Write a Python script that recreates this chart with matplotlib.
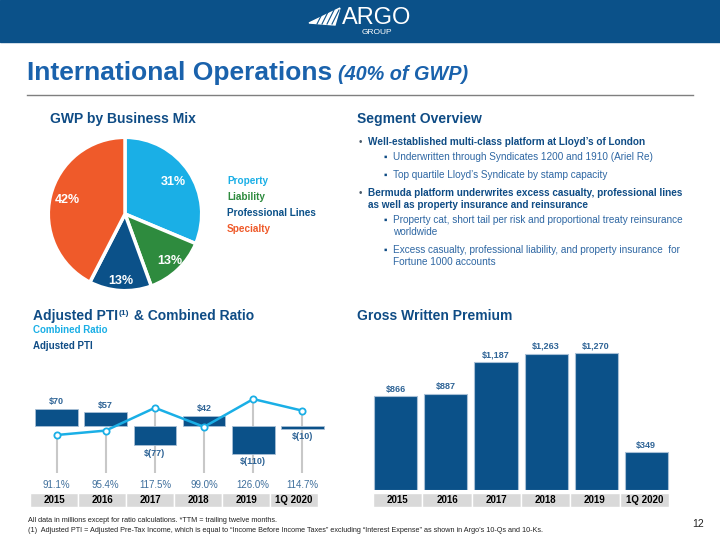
import numpy as np
import matplotlib
matplotlib.use('Agg')
import matplotlib.pyplot as plt
from matplotlib.patches import Rectangle, Polygon
from matplotlib.lines import Line2D

plt.rcParams['font.family'] = ['Liberation Sans', 'DejaVu Sans']

# ---- data ----
mix_labels = ['Property', 'Liability', 'Professional Lines', 'Specialty']
mix_share = [31, 13, 13, 42]

years = ['2015', '2016', '2017', '2018', '2019', '1Q 2020']
pti = [70, 57, -77, 42, -110, -10]
combined_ratio = [91.1, 95.4, 117.5, 99.0, 126.0, 114.7]
gwp = [866, 887, 1187, 1263, 1270, 349]

overview = [
    (0, ['Well-established multi-class platform at Lloyd\u2019s of London']),
    (1, ['Underwritten through Syndicates 1200 and 1910 (Ariel Re)']),
    (1, ['Top quartile Lloyd\u2019s Syndicate by stamp capacity']),
    (0, ['Bermuda platform underwrites excess casualty, professional lines',
         'as well as property insurance and reinsurance']),
    (1, ['Property cat, short tail per risk and proportional treaty reinsurance',
         'worldwide']),
    (1, ['Excess casualty, professional liability, and property insurance  for',
         'Fortune 1000 accounts']),
]

# ---- colours ----
navy = '#0B5189'
head_blue = '#0F4C85'
title_blue = '#1A62AC'
light_blue = '#1AAFE6'
green = '#2E8B3E'
orange = '#EF5A2A'
band_grey = '#D9D9D9'
label_blue = '#2F6496'
mix_colors = [light_blue, green, navy, orange]

W, H = 720, 540


def fx(x):
    return x / W


def fy(y):
    return 1 - y / H


def box(x0, y0, x1, y1):
    return [fx(x0), fy(y1), (x1 - x0) / W, (y1 - y0) / H]


fig = plt.figure(figsize=(7.2, 5.4), dpi=100)
renderer = fig.canvas.get_renderer()


def after(t, gap, y, s, **kw):
    # put a text right after another one
    bb = t.get_window_extent(renderer=renderer)
    return fig.text((bb.x1 + gap) / W, y, s, **kw)


# header band + logo
fig.patches.append(Rectangle((0, fy(42)), 1, 42 / H, transform=fig.transFigure,
                             color=navy, zorder=0))
fig.patches.append(Polygon([(fx(309), fy(23)), (fx(340), fy(8)), (fx(335), fy(25))],
                           closed=True, transform=fig.transFigure, color='white', zorder=1))
for k in range(4):
    fig.add_artist(Line2D([fx(317 + 5 * k), fx(324 + 5 * k)], [fy(24), fy(10)],
                          color=navy, lw=0.8, zorder=2))
fig.text(fx(342), fy(24.5), 'ARGO', color='white', fontsize=17, va='baseline')
fig.text(fx(376.5), fy(33), 'GROUP', color='white', fontsize=6, ha='center', va='center')

# title
t = fig.text(fx(27), fy(80), 'International Operations', fontsize=19, weight='bold',
             color=title_blue, va='baseline')
after(t, 6, fy(80), '(40% of GWP)', fontsize=14.3, weight='bold', style='italic',
      color=title_blue, va='baseline')
fig.add_artist(Line2D([fx(27), fx(693)], [fy(95), fy(95)], color='#7F7F7F', lw=1))

# section headings
fig.text(fx(50), fy(119), 'GWP by Business Mix', fontsize=10, weight='bold',
         color=head_blue, va='center')
fig.text(fx(357), fy(119), 'Segment Overview', fontsize=10, weight='bold',
         color=head_blue, va='center')
t = fig.text(fx(33), fy(320), 'Adjusted PTI', fontsize=10, weight='bold',
             color=head_blue, va='baseline')
t2 = after(t, 0.5, fy(315), '(1)', fontsize=6, weight='bold', color=head_blue,
           va='baseline')
after(t2, 1, fy(320), ' & Combined Ratio', fontsize=10, weight='bold',
      color=head_blue, va='baseline')
fig.text(fx(357), fy(320), 'Gross Written Premium', fontsize=10, weight='bold',
         color=head_blue, va='baseline')

# ---- pie ----
ax_pie = fig.add_axes(box(46, 135, 204, 293))
wedges, _, autotexts = ax_pie.pie(
    mix_share, colors=mix_colors, startangle=90, counterclock=False,
    autopct='%.0f%%', pctdistance=0.8,
    wedgeprops=dict(edgecolor='white', linewidth=2.5),
    textprops=dict(color='white', weight='bold', fontsize=9))
for w, txt, r in zip(wedges, autotexts, [0.76, 0.84, 0.88, 0.78]):
    ang = np.deg2rad((w.theta1 + w.theta2) / 2)
    txt.set_position((r * np.cos(ang), r * np.sin(ang)))
ax_pie.set_xlim(-1.03, 1.03)
ax_pie.set_ylim(-1.03, 1.03)

for i, (lab, c) in enumerate(zip(mix_labels, mix_colors)):
    fig.text(fx(227), fy(181 + 16 * i), lab, color=c, weight='bold', fontsize=7.2,
             va='center')

# ---- segment overview ----
yy = 142
for level, lines in overview:
    if level == 0:
        fig.text(fx(358.5), fy(yy), '\u2022', fontsize=7, color='#4A5A6A', va='center')
        for j, ln in enumerate(lines):
            fig.text(fx(368), fy(yy + 12 * j), ln, fontsize=7.2, weight='bold',
                     color=head_blue, va='center')
    else:
        fig.text(fx(384), fy(yy), '\u25aa', fontsize=7, color=head_blue, va='center')
        for j, ln in enumerate(lines):
            fig.text(fx(393), fy(yy + 12 * j), ln, fontsize=7.2, color='#2E67A3',
                     va='center')
    yy += 12 * (len(lines) - 1) + (15 if level == 0 else 18)

x = np.arange(len(years))

# ---- Adjusted PTI & combined ratio ----
fig.text(fx(33), fy(330), 'Combined Ratio', fontsize=7, weight='bold',
         color=light_blue, va='center')
fig.text(fx(33), fy(346), 'Adjusted PTI', fontsize=7, weight='bold',
         color=head_blue, va='center')

ax_pti = fig.add_axes(box(32, 380, 327, 493))
ax_cr = ax_pti.twinx()
ax_pti.set_zorder(2)
ax_cr.set_zorder(1)
ax_pti.patch.set_visible(False)
ax_pti.bar(x, pti, width=0.87, color=navy, edgecolor='#A9C0D6', linewidth=0.6)
for i, v in enumerate(pti):
    if v >= 0:
        ax_pti.annotate(f'${v}', (i, v), xytext=(0, 1.5), textcoords='offset points',
                        ha='center', va='bottom', fontsize=6.5, weight='bold',
                        color=label_blue)
    else:
        ax_pti.annotate(f'$({-v})', (i, v), xytext=(0, -2.5), textcoords='offset points',
                        ha='center', va='top', fontsize=6.5, weight='bold',
                        color=label_blue)
ax_pti.set_xlim(-0.5, 5.5)
ax_pti.set_ylim(-268, 184)
ax_pti.axis('off')

ax_cr.vlines(x, 54, combined_ratio, color='#C8C8C8', lw=1.5)
ax_cr.set_ylim(34.8, 144.5)
ax_cr.set_xlim(-0.5, 5.5)
ax_cr.axis('off')

# line on top of bars
ax_line = fig.add_axes(box(32, 380, 327, 493), sharex=ax_pti)
ax_line.set_zorder(3)
ax_line.patch.set_visible(False)
ax_line.plot(x, combined_ratio, color=light_blue, lw=1.8, marker='o', ms=4.5,
             mfc='white', mec=light_blue, mew=1.3)
for i, v in enumerate(combined_ratio):
    ax_line.text(i, 42.6, f'{v:.1f}%', ha='center', va='center', fontsize=7,
                 color='#3F6F9C')
ax_line.set_ylim(34.8, 144.5)
ax_line.axis('off')

ax_band1 = fig.add_axes(box(30, 493, 318, 507))
ax_band1.bar(x, [1] * len(years), width=1, color=band_grey, edgecolor='white', lw=1)
for i, yr in enumerate(years):
    ax_band1.text(i, 0.5, yr, ha='center', va='center', fontsize=7, weight='bold')
ax_band1.set_xlim(-0.5, 5.5)
ax_band1.set_ylim(0, 1)
ax_band1.axis('off')

# ---- Gross written premium ----
ax_gwp = fig.add_axes(box(371, 340, 671, 490))
ax_gwp.bar(x, gwp, width=0.86, color=navy, edgecolor='#A9C0D6', linewidth=0.8)
for i, v in enumerate(gwp):
    ax_gwp.annotate(f'${v:,}', (i, v), xytext=(0, 2), textcoords='offset points',
                    ha='center', va='bottom', fontsize=6.5, weight='bold',
                    color=label_blue)
ax_gwp.set_xlim(-0.5, 5.5)
ax_gwp.set_ylim(0, 1389)
ax_gwp.axis('off')

ax_band2 = fig.add_axes(box(373, 493, 669, 507))
ax_band2.bar(x, [1] * len(years), width=1, color=band_grey, edgecolor='white', lw=1)
for i, yr in enumerate(years):
    ax_band2.text(i, 0.5, yr, ha='center', va='center', fontsize=7, weight='bold')
ax_band2.set_xlim(-0.5, 5.5)
ax_band2.set_ylim(0, 1)
ax_band2.axis('off')

# ---- footnotes ----
fig.text(fx(28), fy(521), 'All data in millions except for ratio calculations. '
         '*TTM = trailing twelve months.', fontsize=5.2, va='center', color='#222222')
fig.text(fx(28), fy(531), '(1)  Adjusted PTI = Adjusted Pre-Tax Income, which is equal to '
         '\u201cIncome Before Income Taxes\u201d excluding \u201cInterest Expense\u201d as '
         'shown in Argo\u2019s 10-Qs and 10-Ks.', fontsize=5.2, va='center', color='#222222')
fig.text(fx(698), fy(524), '12', fontsize=7.5, ha='center', va='center', color='#222222')

fig.savefig('out.png', dpi=100)
